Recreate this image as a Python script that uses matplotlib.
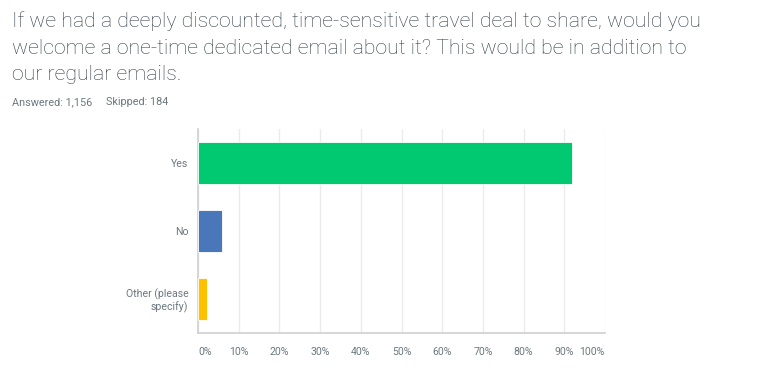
import matplotlib
matplotlib.use("Agg")
import matplotlib.pyplot as plt

# data
categories = ["Yes", "No", "Other (please\nspecify)"]
percents = [91.8, 6.0, 2.2]
bar_colors = ["#00c971", "#4a76ba", "#ffc000"]
xticks = [0, 10, 20, 30, 40, 50, 60, 70, 80, 90, 100]
xtick_labels = [f"{t}%" for t in xticks]

title_lines = [
    "If we had a deeply discounted, time-sensitive travel deal to share, would you",
    "welcome a one-time dedicated email about it? This would be in addition to",
    "our regular emails.",
]
answered = "Answered: 1,156"
skipped = "Skipped: 184"

W, H = 757, 387
fig = plt.figure(figsize=(W / 100, H / 100), dpi=100)
fig.patch.set_facecolor("white")

# title, pixel positions from top
title_color = "#333e48"
for i, line in enumerate(title_lines):
    fig.text(12 / W, 1 - (27 + i * 26.5) / H, line, fontsize=15.3,
             family="Roboto", weight="light", color=title_color, va="baseline")
fig.text(12 / W, 1 - 105 / H, answered, fontsize=7.8, family="Roboto",
         color="#6b787f", va="baseline")
fig.text(106 / W, 1 - 105 / H, skipped, fontsize=7.8, family="Roboto",
         color="#6b787f", va="baseline")

ax = fig.add_axes([198 / W, 1 - 333 / H, (605 - 198) / W, (333 - 129) / H])
ypos = list(range(len(categories)))
ax.barh(ypos, percents, height=0.625, color=bar_colors,
        edgecolor="#ffffff", linewidth=0.6, zorder=3)
ax.set_xlim(0, 100)
ax.set_ylim(len(categories) - 0.5, -0.5)
ax.set_yticks(ypos)
ax.set_yticklabels(categories, fontsize=7.6, family="Roboto", color="#6b787f")
ax.set_xticks(xticks)
ax.set_xticklabels(xtick_labels, fontsize=7.6, family="Roboto", color="#6b787f")
labels = ax.get_xticklabels()
labels[0].set_horizontalalignment("left")
labels[-1].set_horizontalalignment("right")
for lab in ax.get_yticklabels():
    lab.set_multialignment("right")
    lab.set_linespacing(1.1)

ax.tick_params(axis="both", length=0)
ax.tick_params(axis="y", pad=7)
ax.tick_params(axis="x", pad=10)
ax.grid(axis="x", color="#ebebeb", linewidth=1, zorder=0)
for side in ["top", "right"]:
    ax.spines[side].set_visible(False)
for side in ["left", "bottom"]:
    ax.spines[side].set_color("#d0d0d0")
    ax.spines[side].set_linewidth(1.2)

fig.savefig("out.png", dpi=100, facecolor="white")
